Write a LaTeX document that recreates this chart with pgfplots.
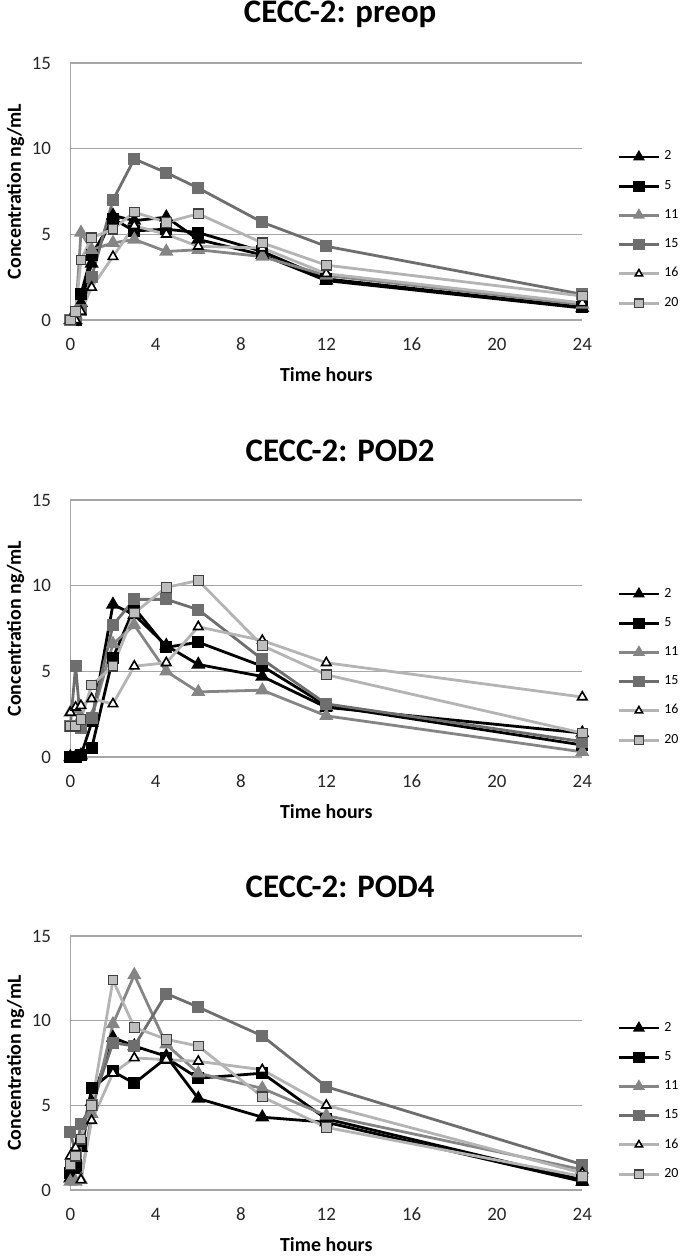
\documentclass[border=0pt]{standalone}
\usepackage{pgfplots}
\pgfplotsset{compat=1.18}
\usepackage{fontspec}
\setmainfont{Carlito}
\definecolor{gridc}{HTML}{A6A6A6}
\definecolor{gA}{HTML}{858585}
\definecolor{gB}{HTML}{6E6E6E}
\definecolor{gC}{HTML}{B4B4B4}
\definecolor{gD}{HTML}{BDBDBD}
\pgfplotsset{
 cecc/.style={
  width=256bp, height=128.5bp, scale only axis,
  xmin=0, xmax=24, ymin=0, ymax=15,
  xtick={0,4,...,24}, ytick={0,5,10,15},
  axis lines=left, axis line style={-, gridc, line width=0.6bp},
  ymajorgrids, grid style={gridc, line width=0.6bp},
  tick style={draw=none},
  clip=false,
  /pgf/number format/assume math mode=true,
  ticklabel style={font=\fontsize{9.5}{10}\selectfont, text=black!85},
  yticklabel style={xshift=-4bp},
  xticklabel style={anchor=base, text height=0pt, text depth=0pt, yshift=-13bp},
  xlabel={Time hours}, ylabel={Concentration ng/mL},
  label style={font=\fontsize{10}{12}\selectfont\bfseries},
  xlabel style={at={(axis description cs:0.5,-0.214)}, anchor=center},
  ylabel style={at={(axis description cs:-0.107,0.5)}, anchor=center},
  title style={at={(axis description cs:0.527,1)}, anchor=center, yshift=18.5bp, font=\fontsize{16.5}{18}\selectfont\bfseries},
  legend style={at={(axis description cs:1.068,0.35)}, anchor=west, draw=none, fill=none,
    font=\fontsize{7}{8}\selectfont, row sep=4.6bp, inner sep=0pt},
  legend cell align=left,
  legend image code/.code={\draw[mark repeat=2,mark phase=2,mark size=2.1bp] plot coordinates {(0bp,0bp) (10bp,0bp) (20bp,0bp)};},
 },
 s2/.style={black, line width=1.4bp, mark=triangle*, mark size=2.7bp, mark options={solid, fill=black, draw=black}},
 s5/.style={black, line width=1.4bp, mark=square*, mark size=2.3bp, mark options={solid, fill=black, draw=black}},
 s11/.style={gA, line width=1.4bp, mark=triangle*, mark size=2.7bp, mark options={solid, fill=gA, draw=gA}},
 s15/.style={gB, line width=1.4bp, mark=square*, mark size=2.3bp, mark options={solid, fill=gB, draw=gB}},
 s16/.style={gC, line width=1.4bp, mark=triangle*, mark size=2.7bp, mark options={solid, fill=white, draw=black, line width=0.8bp}},
 s20/.style={gC, line width=1.4bp, mark=square*, mark size=2.4bp, mark options={solid, fill=gD, draw=black!75, line width=0.6bp}},
}
\begin{document}
\begin{tikzpicture}
\useasboundingbox (-35.15bp,-469bp) rectangle (306.35bp,160bp);
% ---------- Panel 1 ----------
\begin{axis}[cecc, at={(0,0)}, title={CECC-2: preop}]
\addplot[s2] coordinates {(0,0) (0.25,0) (0.5,1.0) (1,3.3) (2,6.1) (3,5.8) (4.5,6.0) (6,4.7) (9,3.8) (12,2.3) (24,0.7)};
\addplot[s5] coordinates {(0,0) (0.25,0) (0.5,1.5) (1,3.8) (2,5.9) (3,5.2) (4.5,5.3) (6,5.1) (9,4.0) (12,2.4) (24,0.75)};
\addplot[s11] coordinates {(0,0) (0.25,0.3) (0.5,5.1) (1,4.1) (2,4.5) (3,4.7) (4.5,4.0) (6,4.1) (9,3.7) (12,2.6) (24,0.9)};
\addplot[s15] coordinates {(0,0) (0.25,0.2) (0.5,0.6) (1,2.5) (2,7.0) (3,9.4) (4.5,8.6) (6,7.7) (9,5.7) (12,4.3) (24,1.5)};
\addplot[s16] coordinates {(0,0) (0.25,0) (0.5,0.5) (1,1.9) (2,3.7) (3,5.5) (4.5,5.0) (6,4.3) (9,4.2) (12,2.7) (24,1.0)};
\addplot[s20] coordinates {(0,0) (0.25,0.5) (0.5,3.5) (1,4.8) (2,5.3) (3,6.3) (4.5,5.7) (6,6.2) (9,4.5) (12,3.2) (24,1.4)};
\legend{2,5,11,15,16,20}
\end{axis}
% ---------- Panel 2 ----------
\begin{axis}[cecc, at={(0,-218.5bp)}, title={CECC-2: POD2}]
\addplot[s2] coordinates {(0,0) (0.25,0) (0.5,0.1) (1,2.0) (2,8.9) (3,8.3) (4.5,6.5) (6,5.4) (9,4.7) (12,2.9) (24,1.4)};
\addplot[s5] coordinates {(0,0) (0.25,0) (0.5,0.1) (1,0.5) (2,5.8) (3,8.7) (4.5,6.4) (6,6.7) (9,5.3) (12,3.0) (24,0.7)};
\addplot[s11] coordinates {(0,2.6) (0.25,2.8) (0.5,2.3) (1,2.3) (2,6.6) (3,7.7) (4.5,5.0) (6,3.8) (9,3.9) (12,2.4) (24,0.3)};
\addplot[s15] coordinates {(0,1.8) (0.25,5.3) (0.5,1.7) (1,2.3) (2,7.7) (3,9.2) (4.5,9.2) (6,8.6) (9,5.7) (12,3.1) (24,0.9)};
\addplot[s16] coordinates {(0,2.6) (0.25,2.9) (0.5,3.0) (1,3.4) (2,3.1) (3,5.3) (4.5,5.5) (6,7.6) (9,6.8) (12,5.5) (24,3.5)};
\addplot[s20] coordinates {(0,1.8) (0.25,1.8) (0.5,2.2) (1,4.2) (2,5.3) (3,8.4) (4.5,9.9) (6,10.3) (9,6.5) (12,4.8) (24,1.4)};
\legend{2,5,11,15,16,20}
\end{axis}
% ---------- Panel 3 ----------
\begin{axis}[cecc, height=127bp, at={(0,-435bp)}, title={CECC-2: POD4}]
\addplot[s2] coordinates {(0,0.7) (0.25,1.2) (0.5,2.5) (1,5.2) (2,9.0) (3,8.5) (4.5,7.9) (6,5.4) (9,4.3) (12,4.0) (24,0.5)};
\addplot[s5] coordinates {(0,1.0) (0.25,1.5) (0.5,2.8) (1,6.0) (2,7.0) (3,6.3) (4.5,7.8) (6,6.6) (9,6.9) (12,4.2) (24,0.6)};
\addplot[s11] coordinates {(0,0.5) (0.25,0.5) (0.5,0.6) (1,4.5) (2,9.8) (3,12.7) (4.5,8.6) (6,6.9) (9,6.0) (12,4.4) (24,1.2)};
\addplot[s15] coordinates {(0,3.4) (0.25,2.2) (0.5,3.9) (1,5.0) (2,8.7) (3,8.5) (4.5,11.6) (6,10.8) (9,9.1) (12,6.1) (24,1.5)};
\addplot[s16] coordinates {(0,2.0) (0.25,2.5) (0.5,0.6) (1,4.1) (2,6.9) (3,7.8) (4.5,7.7) (6,7.6) (9,7.1) (12,5.0) (24,1.0)};
\addplot[s20] coordinates {(0,1.5) (0.25,2.0) (0.5,3.0) (1,5.0) (2,12.4) (3,9.6) (4.5,8.9) (6,8.5) (9,5.5) (12,3.7) (24,0.8)};
\legend{2,5,11,15,16,20}
\end{axis}
\end{tikzpicture}
\end{document}
